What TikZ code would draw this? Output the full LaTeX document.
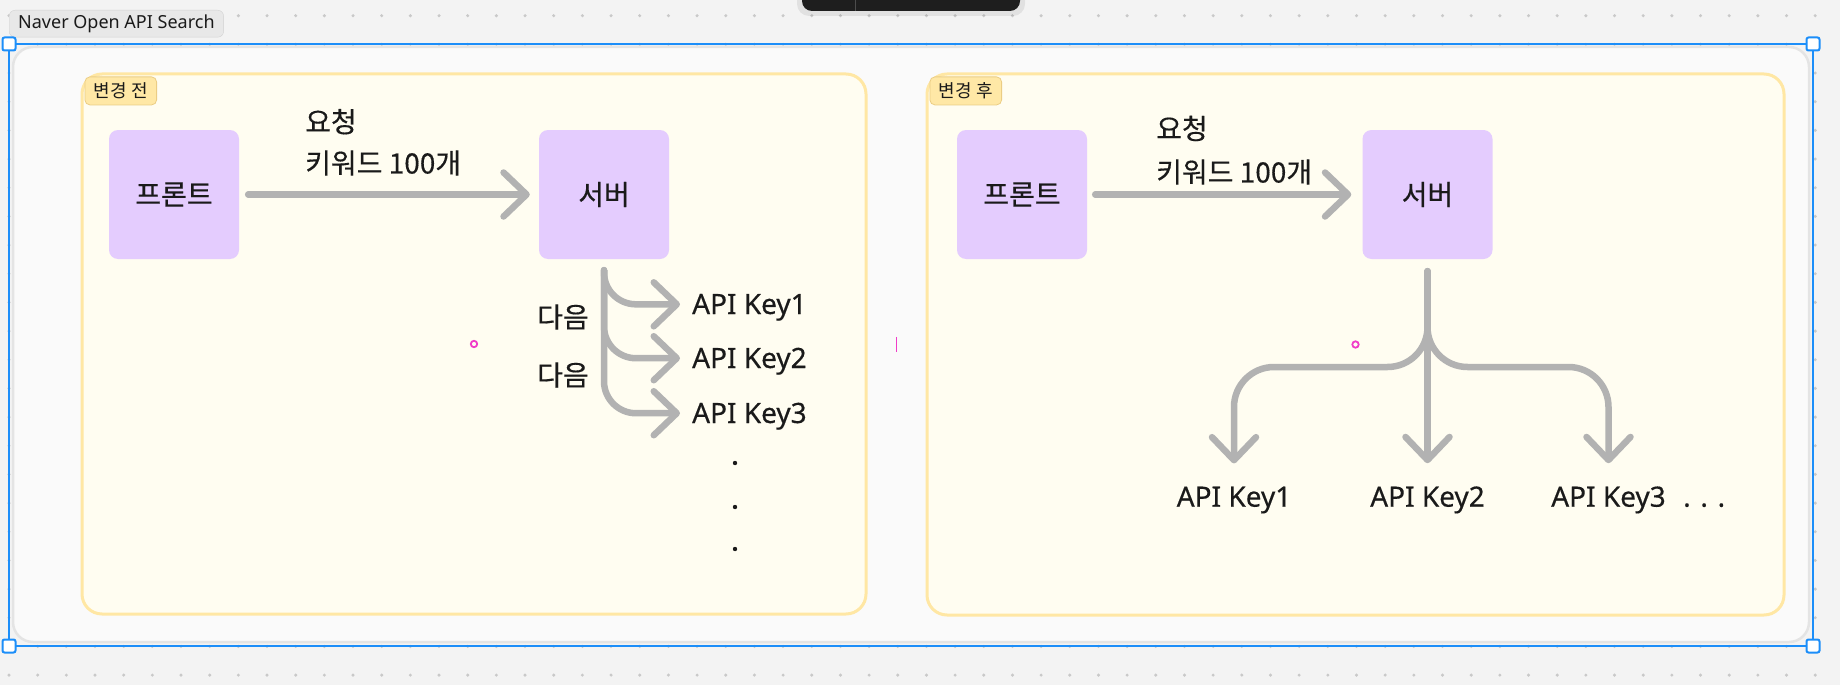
\documentclass[tikz,border=0pt]{standalone}
\usepackage{fontspec}
\setmainfont{Noto Sans}[RawFeature={embolden=0.4}]
\newfontfamily\kr{Noto Sans CJK KR}[RawFeature={embolden=0.4}]
\newfontfamily\krthin{Noto Sans CJK KR}
\newfontfamily\uithin{Noto Sans}
\usetikzlibrary{arrows.meta,calc}

\definecolor{canvas}{HTML}{F3F3F3}
\definecolor{gridgray}{HTML}{C9C9C9}
\definecolor{sheet}{HTML}{FAFAFA}
\definecolor{sheetedge}{HTML}{E4E4E4}
\definecolor{selblue}{HTML}{1C8EF9}
\definecolor{toolbar}{HTML}{1E1E1E}
\definecolor{tabfill}{HTML}{E8E8E8}
\definecolor{tabline}{HTML}{D2D2D2}
\definecolor{groupfill}{HTML}{FFFDF1}
\definecolor{groupline}{HTML}{FFE7A4}
\definecolor{tagfill}{HTML}{FFE8A6}
\definecolor{tagline}{HTML}{EBCD84}
\definecolor{boxfill}{HTML}{E4CCFE}
\definecolor{flowgray}{HTML}{B2B2B2}
\definecolor{ink}{HTML}{1A1A1A}
\definecolor{marker}{HTML}{F03CC8}

\begin{document}
\begin{tikzpicture}[x=1pt,y=1pt]
\tikzstyle{every node}+=[inner sep=0pt, text=ink]
\tikzstyle{tabbox}=[draw=tabline, fill=tabfill, rounded corners=6pt, minimum height=27pt, inner xsep=9pt, font=\uithin\fontsize{18}{21}\selectfont]
\tikzstyle{handle}=[draw=selblue, fill=white, line width=2pt, rounded corners=2pt, minimum size=13pt]
\tikzstyle{groupbox}=[draw=groupline, fill=groupfill, line width=3pt, rounded corners=20pt]
\tikzstyle{grouptag}=[draw=tagline, fill=tagfill, line width=0.8pt, rounded corners=5pt, minimum height=28pt, inner xsep=9pt, font=\krthin\fontsize{18}{21}\selectfont]
\tikzstyle{block}=[fill=boxfill, rounded corners=9pt, minimum width=130pt, minimum height=129pt, font=\kr\fontsize{28}{32}\selectfont]
\tikzstyle{txt}=[font=\kr\fontsize{28}{32}\selectfont]
\tikzstyle{keytxt}=[font=\fontsize{28}{32}\selectfont]
\tikzstyle{flow}=[draw=flowgray, line width=6.5pt, line cap=round, line join=round, -{Straight Barb[length=23pt, width=44pt, round]}]
\useasboundingbox (0,0) rectangle (1840,-685);
\fill[canvas] (0,0) rectangle (1840,-685);
\foreach \i in {0,...,63}
  \foreach \j in {0,...,23}
    \fill[gridgray] (9+28.67*\i,-15.7-28.67*\j) circle (1.7);
% toolbar
\fill[black, opacity=0.07, rounded corners=12pt] (797,20) rectangle (1025,-16);
\fill[toolbar, rounded corners=10pt] (802,20) rectangle (1020,-11);
\draw[gray!60!black, line width=1pt] (855,0) -- (855,-11);
\node[tabbox, anchor=north west] (title) at (9,-10) {Naver Open API Search};
% sheet + selection
\draw[sheetedge, fill=sheet, line width=2.5pt, rounded corners=20pt] (13,-47) rectangle (1809,-642);
\draw[selblue, line width=2pt] (9,-44) rectangle (1813,-646);
\foreach \x/\y/\n in {9/44/nw,1813/44/ne,9/646/sw,1813/646/se}
  \node[handle] (hdl\n) at (\x,-\y) {};
% groups
\node[groupbox, minimum width=784pt, minimum height=540pt] (before) at (474,-344) {};
\node[grouptag, anchor=north west] (tagA) at ([shift={(4pt,-4pt)}]before.north west) {변경 전};
\node[groupbox, minimum width=857pt, minimum height=541pt] (after) at (1355.5,-344.5) {};
\node[grouptag, anchor=north west] (tagB) at ([shift={(4pt,-4pt)}]after.north west) {변경 후};
% before
\node[block] (frontA) at (174,-194.5) {프론트};
\node[block] (srvA) at (604,-194.5) {서버};
\node[txt, anchor=west] (reqA1) at (305,-121.7) {요청};
\node[txt, anchor=west] (reqA2) at (305,-163) {키워드 100개};
\draw[flow, shorten <=9pt, shorten >=9pt] (frontA) -- (srvA);
\node[keytxt, anchor=base west] (keyA1) at (692,-314) {API Key1};
\node[keytxt, anchor=base west] (keyA2) at (692,-368) {API Key2};
\node[keytxt, anchor=base west] (keyA3) at (692,-423) {API Key3};
\foreach \k in {1,2,3}
  \draw[flow, rounded corners=32pt, shorten <=11pt, shorten >=12pt] (srvA.south) |- ([yshift=3pt]keyA\k.west);
\node[txt, anchor=west] (nextA1) at (537,-317) {다음};
\node[txt, anchor=west] (nextA2) at (537,-375) {다음};
\foreach \y in {463,507,549}
  \fill[ink] (735,-\y) circle (2.2);
% after
\node[block] (frontB) at (1022,-194.5) {프론트};
\node[block] (srvB) at (1427.5,-194.5) {서버};
\node[txt, anchor=west] (reqB1) at (1156,-128.5) {요청};
\node[txt, anchor=west] (reqB2) at (1156,-172) {키워드 100개};
\draw[flow, shorten <=8pt, shorten >=11pt] (frontB) -- (srvB);
\node[keytxt, anchor=base] (keyB1) at (1234,-506.7) {API Key1};
\node[keytxt, anchor=base] (keyB2) at (1427.5,-506.7) {API Key2};
\node[keytxt, anchor=base] (keyB3) at (1608.5,-506.7) {API Key3};
\node[keytxt, anchor=base west] (dotsB) at (1683,-506.7) {. . .};
\coordinate (forkB) at (1427.5,-367);
\draw[flow, rounded corners=40pt, shorten <=12pt, shorten >=23pt] (srvB.south) -- (forkB) -| (keyB1.north);
\draw[flow, shorten <=12pt, shorten >=23pt] (srvB.south) -- (keyB2.north);
\draw[flow, rounded corners=40pt, shorten <=12pt, shorten >=23pt] (srvB.south) -- (forkB) -| (keyB3.north);
% markers
\draw[marker, line width=1.8pt] (before.center) circle (3.2);
\draw[marker, line width=1.8pt] (after.center) circle (3.2);
\draw[marker, line width=1.8pt] ($(before.east)!0.5!(after.west)$) +(0,7.5) -- +(0,-7.5);
\end{tikzpicture}
\end{document}
